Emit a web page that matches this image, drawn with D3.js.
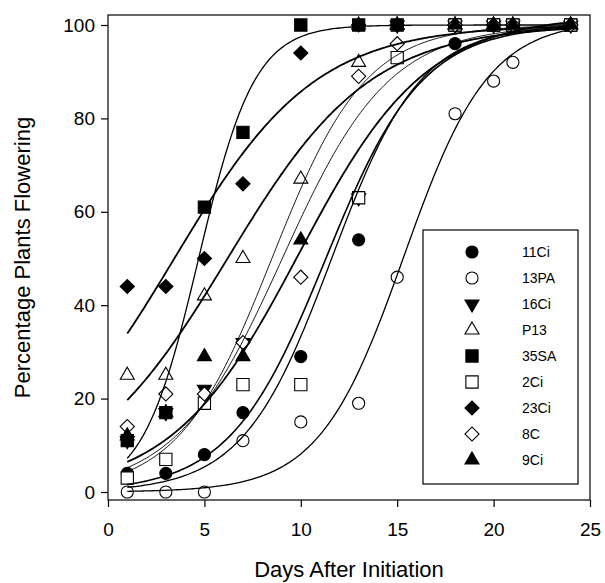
<!DOCTYPE html>
<html>
<head>
<meta charset="utf-8">
<script src="https://cdn.jsdelivr.net/npm/d3@7"></script>
<style>
  body { margin: 0; background: #fff; }
  text { font-family: Arial, "Liberation Sans", sans-serif; fill: #000; }
</style>
</head>
<body>
<svg id="chart"></svg>
<script>
// --- data ---
const days = [1, 3, 5, 7, 10, 13, 15, 18, 20, 21, 24];
const seriesNames = ["11Ci", "13PA", "16Ci", "P13", "35SA", "2Ci", "23Ci", "8C", "9Ci"];
const s11Ci = [4, 4, 8, 17, 29, 54, null, 96, 100, 100, 100];
const s13PA = [0, 0, 0, 11, 15, 19, 46, 81, 88, 92, 100];
const s16Ci = [11, 17, 22, 32, null, 63, 100, 100, 100, 100, 100];
const sP13  = [25, 25, 42, 50, 67, 92, 100, 100, 100, 100, 100];
const s35SA = [11, 17, 61, 77, 100, 100, 100, 100, 100, 100, 100];
const s2Ci  = [3, 7, 19, 23, 23, 63, 93, 100, 100, 100, 100];
const s23Ci = [44, 44, 50, 66, 94, 100, 100, 100, 100, 100, 100];
const s8C   = [14, 21, 21, 32, 46, 89, 96, 100, 100, 100, 100];
const s9Ci  = [12, 17, 29, 29, 54, 100, 100, 100, 100, 100, 100];
const seriesValues = [s11Ci, s13PA, s16Ci, sP13, s35SA, s2Ci, s23Ci, s8C, s9Ci];

// sigmoid fit parameters: y = a / (1 + exp(-(x - x0) / b))
const fitA  = [100, 101, 102, 100, 100, 100, 100, 100, 100];
const fitX0 = [11.3, 15.35, 9.9, 6.2, 4.7, 11.6, 3.44, 9.04, 8.5];
const fitB  = [2.5, 2.2, 3.3, 3.7, 1.45, 2.3, 3.66, 2.77, 2.43];
const fitRange = [1, 24];

const xTicks = [0, 5, 10, 15, 20, 25];
const yTicks = [0, 20, 40, 60, 80, 100];

// marker look per series
const markerShape = ["circle", "circle", "triDown", "triUp", "square", "square", "diamond", "diamond", "triUp"];
const markerFilled = [true, false, true, false, true, false, true, false, true];
const curveWidth = [1.6, 1.3, 1.8, 1.8, 1.3, 1.3, 1.8, 0.9, 0.9];

// --- setup ---
const width = 605, height = 583;
const svg = d3.select("#chart").attr("width", width).attr("height", height);

const plot = {left: 108, right: 590, top: 15, bottom: 500};
const x = d3.scaleLinear().domain([0, 25]).range([plot.left, plot.right]);
const y = d3.scaleLinear().domain([0, 100]).range([492, 25]);

// frame
svg.append("rect")
   .attr("x", plot.left).attr("y", plot.top)
   .attr("width", plot.right - plot.left).attr("height", plot.bottom - plot.top)
   .attr("fill", "none").attr("stroke", "#000").attr("stroke-width", 1.2);

// axes
const xAxis = svg.append("g")
   .attr("transform", `translate(0,${plot.bottom})`)
   .call(d3.axisBottom(x).tickValues(xTicks).tickSize(7).tickPadding(16));
const yAxis = svg.append("g")
   .attr("transform", `translate(${plot.left},0)`)
   .call(d3.axisLeft(y).tickValues(yTicks).tickSize(7).tickPadding(6));
[xAxis, yAxis].forEach(g => {
    g.select(".domain").remove();
    g.selectAll("line").attr("stroke", "#000").attr("stroke-width", 1.2);
    g.selectAll("text").attr("font-size", 19).style("font-family", "Arial, 'Liberation Sans', sans-serif");
});

svg.append("text")
   .attr("x", (plot.left + plot.right) / 2).attr("y", 577)
   .attr("text-anchor", "middle").attr("font-size", 22)
   .text("Days After Initiation");
svg.append("text")
   .attr("transform", `translate(30,${(plot.top + plot.bottom) / 2}) rotate(-90)`)
   .attr("text-anchor", "middle").attr("font-size", 22)
   .text("Percentage Plants Flowering");

// --- markers (open ones are white-filled, curves go on top) ---
function symbolPath(shape) {
    if (shape === "circle") return d3.symbol(d3.symbolCircle, 115)();
    if (shape === "square") return d3.symbol(d3.symbolSquare, 150)();
    if (shape === "diamond") return d3.symbol(d3.symbolSquare, 100)();
    return d3.symbol(d3.symbolTriangle, 85)();
}
function rotation(shape) {
    if (shape === "diamond") return 45;
    if (shape === "triDown") return 180;
    return 0;
}
function drawMarker(g, shape, filled, cx, cy) {
    g.append("path")
       .attr("d", symbolPath(shape))
       .attr("transform", `translate(${cx},${cy}) rotate(${rotation(shape)})`)
       .attr("fill", filled ? "#000" : "#fff")
       .attr("stroke", "#000")
       .attr("stroke-width", 1.1);
}

const markers = svg.append("g");
seriesNames.forEach((name, i) => {
    seriesValues[i].forEach((v, j) => {
        if (v === null) return;
        drawMarker(markers, markerShape[i], markerFilled[i], x(days[j]), y(v));
    });
});

// --- curves ---
const line = d3.line().x(d => x(d[0])).y(d => y(d[1]));
const xs = d3.range(fitRange[0], fitRange[1] + 0.001, 0.1);
seriesNames.forEach((name, i) => {
    const pts = xs.map(t => [t, fitA[i] / (1 + Math.exp(-(t - fitX0[i]) / fitB[i]))]);
    svg.append("path")
       .attr("d", line(pts))
       .attr("fill", "none")
       .attr("stroke", "#000")
       .attr("stroke-width", curveWidth[i]);
});

// --- legend ---
const legend = svg.append("g");
legend.append("rect")
   .attr("x", 423).attr("y", 230).attr("width", 155).attr("height", 254)
   .attr("fill", "#fff").attr("stroke", "#000").attr("stroke-width", 1.2);
seriesNames.forEach((name, i) => {
    const ly = 252 + i * 26;
    drawMarker(legend, markerShape[i], markerFilled[i], 472, ly);
    legend.append("text")
       .attr("x", 522).attr("y", ly + 5)
       .attr("font-size", 14)
       .text(name);
});
</script>
</body>
</html>
